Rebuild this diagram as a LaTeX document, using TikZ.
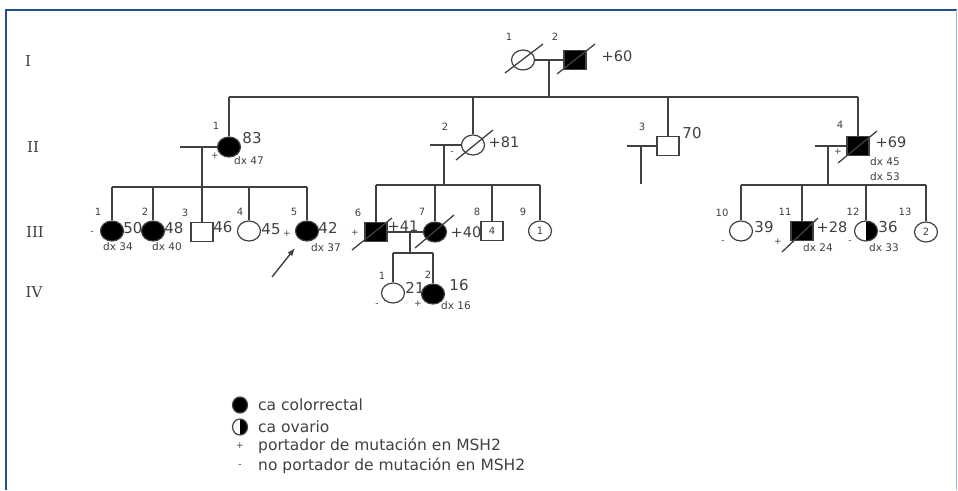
\documentclass[tikz,border=0pt]{standalone}
\usepackage{fontspec}
\setmainfont{DejaVu Sans}
\newfontfamily\romfont{DejaVu Serif}
\usetikzlibrary{shapes.geometric,arrows.meta}
\definecolor{ln}{HTML}{404040}
\definecolor{framec}{HTML}{1F4E8C}
\begin{document}
\begin{tikzpicture}[x=1pt,y=-1pt,
 every node/.style={inner sep=0pt, text=ln},
 rel/.style={draw=ln, line width=1.3pt},
 fem/.style={ellipse, draw=ln, line width=1.2pt, minimum width=23pt, minimum height=20pt},
 mal/.style={rectangle, draw=ln, line width=1.2pt, minimum width=22pt, minimum height=19pt},
 aff/.style={fill=black},
 idn/.style={font=\fontsize{10}{11}\selectfont},
 age/.style={font=\fontsize{15}{17}\selectfont},
 dth/.style={font=\fontsize{14.5}{16}\selectfont},
 dxl/.style={font=\fontsize{10.5}{12}\selectfont},
 gen/.style={font=\romfont\fontsize{15}{17}\selectfont},
 car/.style={font=\fontsize{9}{10}\selectfont},
 leg/.style={font=\fontsize{15.5}{17}\selectfont, anchor=west},
 half/.style={path picture={\fill[black] (path picture bounding box.north) rectangle (path picture bounding box.south east);}},
]
\useasboundingbox (0,0) rectangle (958,490);
% frame
\draw[framec, line width=2pt] (6,490) -- (6,10) -- (957,10);
\draw[framec!40, line width=0.8pt] (956,10) -- (956,490);

% generation labels
\node[gen] (gI) at (28,61) {I};
\node[gen] (gII) at (33,147) {II};
\node[gen] (gIII) at (35,232) {III};
\node[gen] (gIV) at (34,292) {IV};

% ---------- Generation I
\node[fem] (I1) at (523,60) {};
\node[mal, aff] (I2) at (575,60) {};
\draw[rel] ([shift={(-18,13)}]I1.center) -- ([shift={(20,-16)}]I1.center);
\draw[rel] ([shift={(-18,14)}]I2.center) -- ([shift={(20,-16)}]I2.center);
\node[idn] (nI1) at (509,37) {1};
\node[idn] (nI2) at (555,37) {2};
\node[dth] (aI2) at (617,56) {+60};
\draw[rel] (I1.east) -- (I2.west);
\coordinate (mI) at (549,60);
\coordinate (sI) at (549,97);
\draw[rel] (mI) -- (sI);

% ---------- Generation II
\node[fem, aff] (II1) at (229,147) {};
\node[fem] (II2) at (473,145) {};
\node[mal] (II3) at (668,146) {};
\node[mal, aff] (II4) at (858,146) {};
\draw[rel] (II1 |- sI) -- (II4 |- sI);
\foreach \n in {II1,II2,II3,II4} \draw[rel] (\n |- sI) -- (\n.north);
\draw[rel] ([shift={(-17,15)}]II2.center) -- ([shift={(20,-15)}]II2.center);
\draw[rel] ([shift={(-20,17)}]II4.center) -- ([shift={(19,-15)}]II4.center);
\node[idn] (nII1) at (216,126) {1};
\node[idn] (nII2) at (445,127) {2};
\node[idn] (nII3) at (642,127) {3};
\node[idn] (nII4) at (840,125) {4};
\node[age] (aII1) at (252,138) {83};
\node[dxl] (xII1) at (249,161) {dx 47};
\node[car] (cII1) at (215,156) {+};
\node[dth] (aII2) at (504,142) {+81};
\node[car] (cII2) at (452,153) {-};
\node[age] (aII3) at (692,133) {70};
\node[dth] (aII4) at (891,142) {+69};
\node[dxl] (xII4a) at (885,162) {dx 45};
\node[dxl] (xII4b) at (885,177) {dx 53};
\node[car] (cII4) at (838,152) {+};
% spouses / descent lines
\coordinate (sp1) at (180,147);
\draw[rel] (sp1) -- (II1.west);
\coordinate (d1) at (202,147);
\coordinate (sp2) at (430,145);
\draw[rel] (sp2) -- (II2.west);
\coordinate (d2) at (444,145);
\coordinate (sp3) at (627,146);
\draw[rel] (sp3) -- (II3.west);
\coordinate (d3) at (641,146);
\coordinate (e3) at (641,184);
\draw[rel] (d3) -- (e3);
\coordinate (sp4) at (815,146);
\draw[rel] (sp4) -- (II4.west);
\coordinate (d4) at (828,146);

% ---------- Generation III, sibship A
\coordinate (sA) at (202,187);
\node[fem, aff] (III1) at (112,231) {};
\node[fem, aff] (III2) at (153,231) {};
\node[mal] (III3) at (202,232) {};
\node[fem] (III4) at (249,231) {};
\node[fem, aff] (III5) at (307,231) {};
\draw[rel] (d1) -- (sA);
\draw[rel] (III1 |- sA) -- (III5 |- sA);
\foreach \n in {III1,III2,III3,III4,III5} \draw[rel] (\n |- sA) -- (\n.north);
\node[idn] (n31) at (98,212) {1};
\node[idn] (n32) at (145,212) {2};
\node[idn] (n33) at (185,213) {3};
\node[idn] (n34) at (240,212) {4};
\node[idn] (n35) at (294,212) {5};
\node[age] (a31) at (133,228) {50};
\node[age] (a32) at (174,228) {48};
\node[age] (a33) at (223,227) {46};
\node[age] (a34) at (271,229) {45};
\node[age] (a35) at (328,228) {42};
\node[dxl] (x31) at (118,247) {dx 34};
\node[dxl] (x32) at (167,247) {dx 40};
\node[dxl] (x35) at (326,248) {dx 37};
\node[car] (c31) at (92,233) {-};
\node[car] (c35) at (287,234) {+};
\coordinate (arS) at (272,277);
\draw[ln, line width=1.4pt, -{Latex[length=8pt,width=6pt]}] (arS) -- ([shift={(-12,17)}]III5.center);

% ---------- Generation III, sibship B
\coordinate (sB) at (444,185);
\node[mal, aff] (III6) at (376,232) {};
\node[fem, aff] (III7) at (435,232) {};
\node[mal] (III8) at (492,231) {\fontsize{10}{11}\selectfont 4};
\node[fem] (III9) at (540,231) {\fontsize{10}{11}\selectfont 1};
\draw[rel] (d2) -- (sB);
\draw[rel] (III6 |- sB) -- (III9 |- sB);
\foreach \n in {III6,III7,III8,III9} \draw[rel] (\n |- sB) -- (\n.north);
\draw[rel] ([shift={(-24,18)}]III6.center) -- ([shift={(16,-14)}]III6.center);
\draw[rel] ([shift={(-20,16)}]III7.center) -- ([shift={(19,-17)}]III7.center);
\node[idn] (n36) at (358,213) {6};
\node[idn] (n37) at (422,212) {7};
\node[idn] (n38) at (477,212) {8};
\node[idn] (n39) at (523,212) {9};
\node[dth] (a36) at (403,226) {+41};
\node[dth] (a37) at (466,232) {+40};
\node[car] (c36) at (355,233) {+};
\draw[rel] (III6.east) -- (III7.west);
\coordinate (m67) at (410,232);
\coordinate (sC) at (410,253);
\draw[rel] (m67) -- (sC);

% ---------- Generation IV
\node[fem] (IV1) at (393,293) {};
\node[fem, aff] (IV2) at (433,294) {};
\draw[rel] (IV1 |- sC) -- (IV2 |- sC);
\foreach \n in {IV1,IV2} \draw[rel] (\n |- sC) -- (\n.north);
\node[idn] (n41) at (382,276) {1};
\node[idn] (n42) at (428,275) {2};
\node[age] (a41) at (415,288) {21};
\node[age] (a42) at (459,285) {16};
\node[dxl] (x42) at (456,306) {dx 16};
\node[car] (c41) at (377,305) {-};
\node[car] (c42) at (418,304) {+};

% ---------- Generation III, sibship D
\coordinate (sD) at (828,185);
\node[fem] (III10) at (741,231) {};
\node[mal, aff] (III11) at (802,231) {};
\node[fem, half] (III12) at (866,231) {};
\node[fem] (III13) at (926,232) {\fontsize{10}{11}\selectfont 2};
\draw[rel] (d4) -- (sD);
\draw[rel] (III10 |- sD) -- (III13 |- sD);
\foreach \n in {III10,III11,III12,III13} \draw[rel] (\n |- sD) -- (\n.north);
\draw[rel] ([shift={(-20,21)}]III11.center) -- ([shift={(16,-13)}]III11.center);
\node[idn] (n310) at (722,213) {10};
\node[idn] (n311) at (785,212) {11};
\node[idn] (n312) at (853,212) {12};
\node[idn] (n313) at (905,212) {13};
\node[age] (a310) at (764,227) {39};
\node[dth] (a311) at (832,227) {+28};
\node[age] (a312) at (888,227) {36};
\node[dxl] (x311) at (818,248) {dx 24};
\node[dxl] (x312) at (884,248) {dx 33};
\node[car] (c310) at (723,242) {-};
\node[car] (c311) at (778,242) {+};
\node[car] (c312) at (850,242) {-};

% ---------- Legend
\node[fem, aff, minimum width=15pt, minimum height=16pt] (L1) at (240,405) {};
\node[fem, half, minimum width=15pt, minimum height=16pt] (L2) at (240,427) {};
\node[car] (L3) at (240,446) {+};
\node[car] (L4) at (240,466) {-};
\node[leg] (T1) at (258,405) {ca colorrectal};
\node[leg] (T2) at (258,427) {ca ovario};
\node[leg] (T3) at (258,446) {portador de mutación en MSH2};
\node[leg] (T4) at (258,466) {no portador de mutación en MSH2};
\end{tikzpicture}
\end{document}
